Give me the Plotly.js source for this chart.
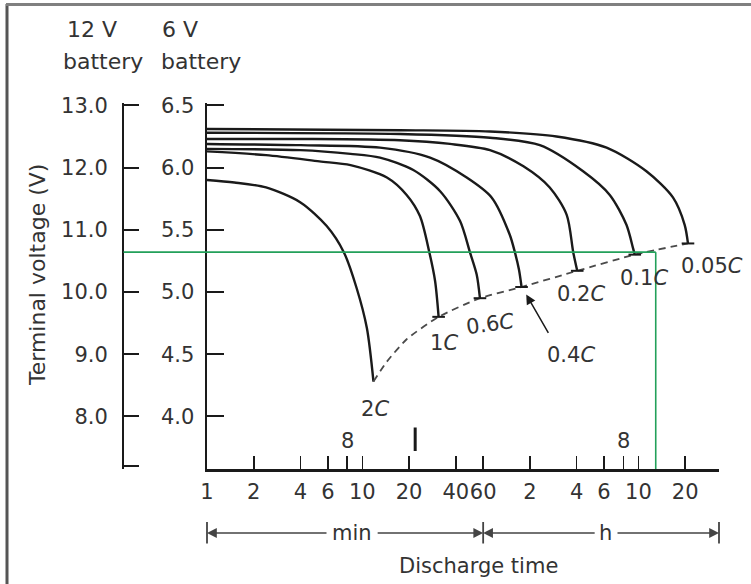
<!DOCTYPE html>
<html><head><meta charset="utf-8">
<script src="https://cdn.plot.ly/plotly-3.0.1.min.js"></script>
<style>html,body{margin:0;padding:0;background:#fff;}</style>
</head><body>
<div id="chart" style="width:751px;height:584px;"></div>
<script>
// ---- data (discharge time in minutes, 6 V battery terminal voltage) ----
const rateLabels = ['2<i>C</i>', '1<i>C</i>', '0.6<i>C</i>', '0.4<i>C</i>', '0.2<i>C</i>', '0.1<i>C</i>', '0.05<i>C</i>'];

const time_2C = [1, 1.5, 2.4, 4, 5.9, 7.6, 9.2, 10.7, 11.8];
const volt_2C = [5.90, 5.88, 5.84, 5.72, 5.53, 5.32, 5.03, 4.71, 4.28];

const time_1C = [1, 2.4, 5.3, 8.4, 14.4, 19.3, 23.5, 27, 29.4, 31.0];
const volt_1C = [6.13, 6.10, 6.05, 6.02, 5.92, 5.78, 5.61, 5.32, 5.09, 4.80];

const time_06C = [1, 4, 8.4, 13, 21.3, 31.7, 42.6, 49.3, 54.5, 57.2];
const volt_06C = [6.15, 6.14, 6.11, 6.08, 5.98, 5.81, 5.57, 5.32, 5.14, 4.95];

const time_04C = [1, 4, 13, 27.3, 47, 68, 89, 96, 102, 106];
const volt_04C = [6.19, 6.18, 6.16, 6.08, 5.92, 5.76, 5.46, 5.32, 5.18, 5.04];

const time_02C = [1, 4, 17.5, 36.7, 66.4, 109, 161, 207, 228, 242];
const volt_02C = [6.23, 6.23, 6.22, 6.19, 6.14, 6.01, 5.84, 5.62, 5.32, 5.17];

const time_01C = [1, 17.5, 66.4, 139, 264, 392, 502, 554, 568];
const volt_01C = [6.28, 6.27, 6.24, 6.18, 5.97, 5.78, 5.54, 5.35, 5.30];

const time_005C = [1, 17.5, 66.4, 178, 374, 675, 1000, 1190, 1250];
const volt_005C = [6.31, 6.30, 6.29, 6.25, 6.16, 5.97, 5.76, 5.54, 5.39];

// end-of-discharge (dashed) line
const cutoffTime = [11.8, 14.4, 19.3, 31.0, 57.2, 106, 242, 568, 1250];
const cutoffVolt = [4.28, 4.44, 4.62, 4.80, 4.95, 5.04, 5.17, 5.30, 5.39];

// green reference lines
const refVolt = 5.32;
const refTime = 775;

// axes ticks
const xTickVals = [1, 2, 4, 6, 8, 10, 20, 40, 60, 120, 240, 360, 480, 600, 1200, 1980];
const xTickText = ['1', '2', '4', '6', '', '10', '20', '40', '60', '2', '4', '6', '', '10', '20', ''];
const y6Ticks = [4.0, 4.5, 5.0, 5.5, 6.0, 6.5];
const y12Ticks = [7.2, 8, 9, 10, 11, 12, 13];
const y12Text = ['', '8.0', '9.0', '10.0', '11.0', '12.0', '13.0'];

// label positions (time min, volt)
const labelTime = [12.1, 33.6, 66.4, 220, 255, 650, 1780];
const labelVolt = [4.06, 4.59, 4.74, 4.49, 4.98, 5.11, 5.21];

// ---- drawing ----
const FONT = 'DejaVu Sans, sans-serif';
const TXT = '#333333';
const INK = '#1a1a1a';
const GREEN = '#23a05a';

const series = [
  [time_2C, volt_2C], [time_1C, volt_1C], [time_06C, volt_06C], [time_04C, volt_04C],
  [time_02C, volt_02C], [time_01C, volt_01C], [time_005C, volt_005C]
];

const yMin = 3.577, yMax = 6.519;
const traces = [];
series.forEach(([t, v]) => {
  traces.push({x: t, y: v, type: 'scatter', mode: 'lines',
    line: {color: INK, width: 2.4, shape: 'spline', smoothing: 0.8},
    hoverinfo: 'skip', showlegend: false});
});
traces.push({x: cutoffTime, y: cutoffVolt, type: 'scatter', mode: 'lines',
  line: {color: '#4a4a4a', width: 1.8, dash: '7px,5px', shape: 'spline', smoothing: 0.6},
  hoverinfo: 'skip', showlegend: false});
// small cross bars where curves meet the dashed line
const endT = series.slice(1).map(s => s[0][s[0].length - 1]);
const endV = series.slice(1).map(s => s[1][s[1].length - 1]);
traces.push({x: endT, y: endV, type: 'scatter', mode: 'markers',
  marker: {symbol: 'line-ew', size: 9, line: {color: INK, width: 2}},
  hoverinfo: 'skip', showlegend: false});
// green guides
traces.push({x: [1, refTime], y: [refVolt, refVolt], type: 'scatter', mode: 'lines',
  line: {color: GREEN, width: 1.6}, hoverinfo: 'skip', showlegend: false});
traces.push({x: [refTime, refTime], y: [refVolt, yMin], type: 'scatter', mode: 'lines',
  line: {color: GREEN, width: 1.6}, hoverinfo: 'skip', showlegend: false});
// anchor trace for 12 V axis
traces.push({x: [1], y: [13], yaxis: 'y2', type: 'scatter', mode: 'markers',
  marker: {opacity: 0}, hoverinfo: 'skip', showlegend: false});

const L = 110, R = 32, T = 103, B = 115;
const PW = 751 - L - R, PH = 584 - T - B;
const px2paperX = p => (p - L) / PW;
const px2paperY = p => (584 - B - p) / PH;
const lg = Math.log10;

const annotations = [];
function txt(text, x, y, xref, yref, opts) {
  annotations.push(Object.assign({text, x, y, xref, yref, showarrow: false,
    xanchor: 'center', yanchor: 'middle',
    font: {family: FONT, size: 21, color: TXT}}, opts || {}));
}
function arrow(x, y, xref, yref, ax, ay, opts) {
  annotations.push(Object.assign({text: '', x, y, xref, yref, ax, ay, axref: 'pixel', ayref: 'pixel',
    showarrow: true, arrowhead: 2, arrowsize: 1.4, arrowwidth: 1.4, arrowcolor: '#444',
    standoff: 0, startstandoff: 0}, opts || {}));
}

const HFONT = {family: FONT, size: 22, color: TXT};
// headers
txt('12 V', px2paperX(65), px2paperY(30), 'paper', 'paper', {xanchor: 'left', font: HFONT});
txt('battery', px2paperX(61), px2paperY(62), 'paper', 'paper', {xanchor: 'left', font: HFONT});
txt('6 V', px2paperX(160), px2paperY(30), 'paper', 'paper', {xanchor: 'left', font: HFONT});
txt('battery', px2paperX(159), px2paperY(62), 'paper', 'paper', {xanchor: 'left', font: HFONT});
txt('Terminal voltage (V)', px2paperX(37), px2paperY(275), 'paper', 'paper', {textangle: -90, font: HFONT});
txt('Discharge time', px2paperX(478), px2paperY(566), 'paper', 'paper');

// curve labels
rateLabels.forEach((lab, i) => {
  txt(lab, lg(labelTime[i]), labelVolt[i], 'x', 'y', {textangle: i === 2 ? -8 : 0,
    font: {family: FONT, size: 21, color: TXT}});
});
// arrow to 0.4C end
arrow(lg(time_04C[time_04C.length - 1]) + 0.03, volt_04C[volt_04C.length - 1] - 0.06, 'x', 'y', 23, 40,
  {arrowhead: 2, arrowsize: 1.3, arrowwidth: 1.5, arrowcolor: INK});

// "8" marks above axis and the bar mark
txt('8', lg(8), 3.805, 'x', 'y');
txt('8', lg(480), 3.805, 'x', 'y');
arrow(lg(21.9), 3.91, 'x', 'y', 0, 25, {arrowhead: 0, arrowwidth: 3, arrowcolor: INK});

// green extension to outer axis
arrow(0, refVolt, 'x', 'y', -85, 0, {arrowhead: 0, arrowwidth: 1.6, arrowcolor: GREEN});

// min / h row
const rowY = px2paperY(533);
const barTop = px2paperY(522);
[0, lg(60), lg(1980)].forEach(xv => arrow(xv, barTop, 'x', 'paper', 0, 23, {arrowhead: 0, arrowwidth: 1.8, arrowcolor: '#444'}));
arrow(0, rowY, 'x', 'paper', 121, 0);
arrow(lg(60), rowY, 'x', 'paper', -107, 0);
arrow(lg(60), rowY, 'x', 'paper', 113, 0);
arrow(lg(1980), rowY, 'x', 'paper', -103, 0);
txt('min', lg(8.56), rowY, 'x', 'paper');
txt('h', lg(367), rowY, 'x', 'paper');

const layout = {
  width: 751, height: 584,
  margin: {l: L, r: R, t: T, b: B, pad: 0},
  paper_bgcolor: '#ffffff', plot_bgcolor: '#ffffff',
  showlegend: false,
  font: {family: FONT, size: 21, color: TXT},
  xaxis: {
    type: 'log', range: [0, lg(1980)], domain: [px2paperX(207), 1],
    tickvals: xTickVals, ticktext: xTickText, tickangle: 0,
    ticks: 'inside', ticklen: 13, tickwidth: 1.6, tickcolor: INK,
    showline: true, linewidth: 2.5, linecolor: INK,
    showgrid: false, zeroline: false, ticklabelstandoff: 2,
    tickfont: {family: FONT, size: 21, color: TXT}
  },
  yaxis: {
    range: [yMin, yMax], anchor: 'x',
    tickvals: y6Ticks, ticktext: y6Ticks.map(v => v.toFixed(1)),
    ticks: 'inside', ticklen: 17, tickwidth: 2, tickcolor: INK,
    showline: true, linewidth: 2.5, linecolor: INK,
    showgrid: false, zeroline: false, ticklabelstandoff: 6,
    tickfont: {family: FONT, size: 21, color: TXT}
  },
  yaxis2: {
    range: [2 * yMin, 2 * yMax], overlaying: 'y', anchor: 'free', side: 'left',
    position: px2paperX(123),
    tickvals: y12Ticks, ticktext: y12Text,
    ticks: 'inside', ticklen: 15, tickwidth: 2, tickcolor: INK,
    showline: true, linewidth: 2, linecolor: INK,
    showgrid: false, zeroline: false, ticklabelstandoff: 10,
    tickfont: {family: FONT, size: 21, color: TXT}
  },
  annotations: annotations,
  shapes: [
    {type: 'line', xref: 'paper', yref: 'paper', x0: px2paperX(7), x1: px2paperX(7),
      y0: px2paperY(584), y1: px2paperY(4), line: {color: '#555', width: 3}},
    {type: 'line', xref: 'paper', yref: 'paper', x0: px2paperX(6), x1: px2paperX(751),
      y0: px2paperY(4.5), y1: px2paperY(4.5), line: {color: '#808080', width: 3}}
  ]
};

Plotly.newPlot('chart', traces, layout, {staticPlot: true, displayModeBar: false});
</script>
</body></html>
